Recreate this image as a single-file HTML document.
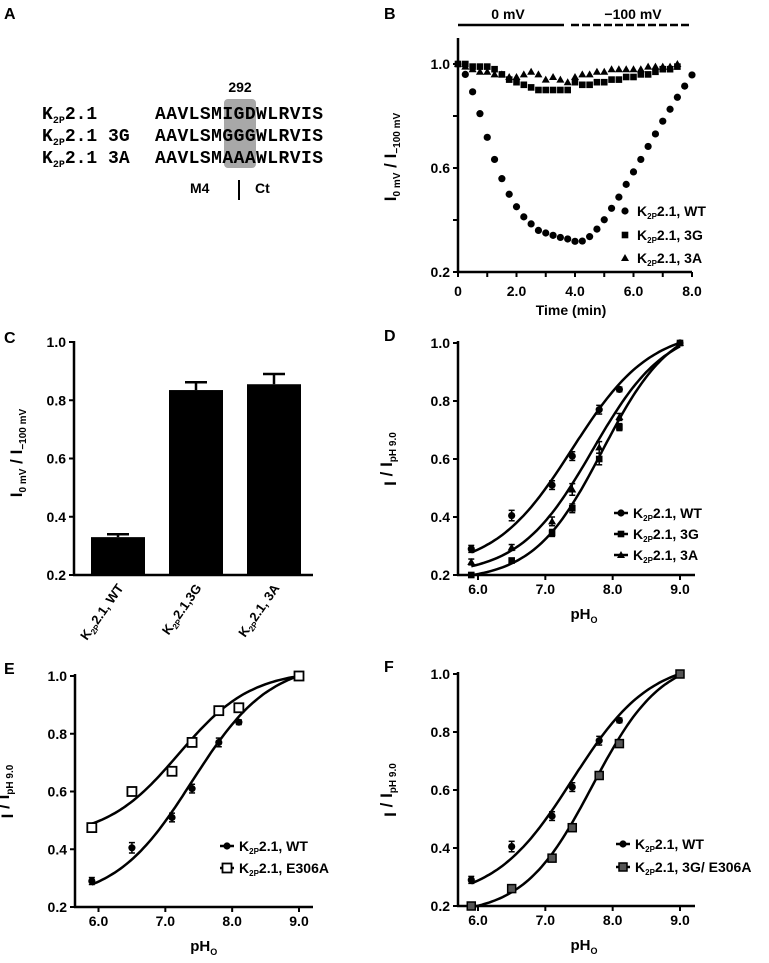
<!DOCTYPE html>
<html><head><meta charset="utf-8"><style>
html,body{margin:0;padding:0;background:#fff}
svg{display:block;font-family:"Liberation Sans",Arial,sans-serif;font-weight:bold}
.mono{font-family:"Liberation Mono","DejaVu Sans Mono",monospace;font-weight:bold}
</style></head><body>
<svg id="fig" width="769" height="963" viewBox="0 0 769 963" xmlns="http://www.w3.org/2000/svg">
<!-- Panel A -->
<g>
<text x="4" y="19" font-size="16">A</text>
<rect x="224" y="99" width="32" height="69" rx="4" fill="#a8a8a8"/>
<text x="240" y="92" font-size="14" text-anchor="middle">292</text>
<g class="mono" font-size="18">
<text x="42" y="119">K<tspan font-size="10" dy="4">2P</tspan><tspan dy="-4">2.1</tspan></text>
<text x="42" y="141">K<tspan font-size="10" dy="4">2P</tspan><tspan dy="-4">2.1 3G</tspan></text>
<text x="42" y="163">K<tspan font-size="10" dy="4">2P</tspan><tspan dy="-4">2.1 3A</tspan></text>
<text x="155" y="119" textLength="168">AAVLSMIGDWLRVIS</text>
<text x="155" y="141" textLength="168">AAVLSMGGGWLRVIS</text>
<text x="155" y="163" textLength="168">AAVLSMAAAWLRVIS</text>
</g>
<text x="190" y="193" font-size="14">M4</text>
<line x1="239" y1="180" x2="239" y2="200" stroke="#000" stroke-width="2"/>
<text x="255" y="193" font-size="14">Ct</text>
</g>
<g id="plots"></g>
</svg>
<script>
// ---------- Data ----------
const bTimeWT=[0,0.25,0.5,0.75,1,1.25,1.5,1.75,2,2.25,2.5,2.75,3,3.25,3.5,3.75,4,4.25,4.5,4.75,5,5.25,5.5,5.75,6,6.25,6.5,6.75,7,7.25,7.5,7.75,8];
const bWT=[1.0,0.96,0.893,0.809,0.718,0.633,0.559,0.499,0.451,0.412,0.385,0.36,0.35,0.341,0.333,0.327,0.318,0.319,0.336,0.365,0.401,0.445,0.488,0.537,0.585,0.633,0.683,0.731,0.78,0.826,0.872,0.915,0.958];
const bTimeMut=[0,0.25,0.5,0.75,1,1.25,1.5,1.75,2,2.25,2.5,2.75,3,3.25,3.5,3.75,4,4.25,4.5,4.75,5,5.25,5.5,5.75,6,6.25,6.5,6.75,7,7.25,7.5];
const b3G=[1.0,1.0,0.99,0.99,0.99,0.98,0.96,0.94,0.93,0.92,0.91,0.90,0.90,0.90,0.90,0.90,0.93,0.92,0.92,0.93,0.93,0.94,0.94,0.95,0.95,0.96,0.96,0.97,0.98,0.98,0.99];
const b3A=[1.0,0.99,0.98,0.97,0.97,0.96,0.96,0.95,0.95,0.96,0.97,0.96,0.94,0.95,0.94,0.93,0.95,0.96,0.96,0.97,0.97,0.98,0.98,0.98,0.98,0.98,0.99,0.99,0.99,0.99,1.0];
const cCategories=["WT","3G","3A"];
const cValues=[0.33,0.835,0.855];
const cErrors=[0.01,0.027,0.035];
const pH=[5.9,6.5,7.1,7.4,7.8,8.1,9.0];
const wtVals=[0.29,0.405,0.51,0.61,0.77,0.84,1.0];
const wtErr=[0.012,0.018,0.015,0.015,0.015,0.008,0.005];
const g3Vals=[0.20,0.25,0.345,0.43,0.60,0.71,1.0];
const g3Err=[0.008,0.008,0.012,0.015,0.02,0.012,0.005];
const a3Vals=[0.245,0.295,0.385,0.495,0.64,0.745,1.0];
const a3Err=[0.01,0.01,0.015,0.02,0.02,0.012,0.005];
const e306Vals=[0.475,0.60,0.67,0.77,0.88,0.89,1.0];
const g3e306Vals=[0.20,0.26,0.365,0.47,0.65,0.76,1.0];
// fit params: [bottom, top, pK, slope]
const fitWT=[0.22,1.05,7.4,0.75];
const fit3G=[0.18,1.08,7.85,0.85];
const fit3A=[0.2,1.06,7.7,0.8];
const fitE306=[0.44,1.02,7.2,0.8];
const fit3GE306=[0.17,1.06,7.7,0.85];
const yTicks=[0.2,0.4,0.6,0.8,1.0];
const pHTicks=[6,7,8,9];
const timeTicks=[0,1,2,3,4,5,6,7,8];

// ---------- helpers ----------
const NS="http://www.w3.org/2000/svg";
const root=document.getElementById('plots');
function el(tag,attrs,parent){const e=document.createElementNS(NS,tag);for(const k in attrs)e.setAttribute(k,attrs[k]);(parent||root).appendChild(e);return e;}
function txt(s,x,y,size,anchor,parent){const t=el('text',{x:x,y:y,'font-size':size,'text-anchor':anchor||'start'},parent);t.textContent=s;return t;}
function hill(p,x){return p[0]+(p[1]-p[0])/(1+Math.pow(10,(p[2]-x)*p[3]));}
function marker(kind,cx,cy,g){
  let m;
  if(kind==='circle') m=el('circle',{cx:cx,cy:cy,r:3.6,fill:'#000'},g);
  else if(kind==='square') m=el('rect',{x:cx-3.3,y:cy-3.3,width:6.6,height:6.6,fill:'#000'},g);
  else if(kind==='tri') m=el('polygon',{points:`${cx},${cy-4} ${cx-4},${cy+3} ${cx+4},${cy+3}`,fill:'#000'},g);
  else if(kind==='open') m=el('rect',{x:cx-4.5,y:cy-4.5,width:9,height:9,fill:'#fff',stroke:'#000','stroke-width':1.8},g);
  else if(kind==='xsq') {m=el('rect',{x:cx-4,y:cy-4,width:8,height:8,fill:'#555',stroke:'#000','stroke-width':1.5},g);}
  return m;
}
function yTitle(x,y,main1,sub1,main2,sub2,g){
  const t=el('text',{transform:`translate(${x},${y}) rotate(-90)`,'font-size':17,'text-anchor':'middle'},g);
  
  
  t.innerHTML=`${main1}<tspan font-size="10" dy="4">${sub1}</tspan><tspan dy="-4"> / ${main2}</tspan><tspan font-size="10" dy="4">${sub2}</tspan>`;
}
function yAxis(g,x,yf,top,labelsAll,labelSet){
  el('line',{x1:x,y1:top,x2:x,y2:yf(0.2)+1,stroke:'#000','stroke-width':2.5},g);
  yTicks.forEach(v=>{
    const yy=yf(v);
    el('line',{x1:x-5,y1:yy,x2:x,y2:yy,stroke:'#000','stroke-width':2},g);
    if(labelsAll||labelSet.includes(v)){const t=txt(v.toFixed(1),x-8,yy+5,14,'end',g);
      
      }
  });
}
function legendEntry(g,x,y,kind,label,withLine){
  const e=el('g',{},g);
  
  
  if(withLine) el('line',{x1:x-7,y1:y,x2:x+7,y2:y,stroke:'#000','stroke-width':2.5},e);
  marker(kind,x,y,e);
  const t=el('text',{x:x+12,y:y+5,'font-size':14},e);
  t.innerHTML=`K<tspan font-size="8" dy="3">2P</tspan><tspan dy="-3">${label}</tspan>`;
}

// ---------- Panel B ----------
(function(){
  const g=el('g',{});
  
  
  const xf=t=>458+t*29.25, yf=v=>272-(v-0.2)*260;
  txt('B',384,19,16,'start',g);
  const l1=txt('0 mV',508,19,14,'middle',g);
  const l2=txt('\u2212100 mV',633,19,14,'middle',g);
  el('line',{x1:458,y1:25,x2:564,y2:25,stroke:'#000','stroke-width':2.5},g);
  el('line',{x1:571,y1:25,x2:689,y2:25,stroke:'#000','stroke-width':2.5,'stroke-dasharray':'8,3'},g);
  yAxis(g,458,yf,38,false,[0.2,0.6,1.0]);
  el('line',{x1:457,y1:272,x2:692,y2:272,stroke:'#000','stroke-width':2.5},g);
  timeTicks.forEach(t=>{el('line',{x1:xf(t),y1:272,x2:xf(t),y2:277,stroke:'#000','stroke-width':2},g);
    if(t%2===0){const lb=txt(t===0?'0':t.toFixed(1),xf(t),296,14,'middle',g);
      
      }});
  const xt=txt('Time (min)',571,315,14,'middle',g);
  
  
  yTitle(396,157,'I','0 mV','I','\u2212100 mV',g);
  b3A.forEach((v,i)=>{const m=marker('tri',xf(bTimeMut[i]),yf(v),g);
    
    });
  b3G.forEach((v,i)=>{const m=marker('square',xf(bTimeMut[i]),yf(v),g);
    
    });
  bWT.forEach((v,i)=>{const m=marker('circle',xf(bTimeWT[i]),yf(v),g);
    
    });
  legendEntry(g,625,211,'circle','2.1, WT',false);
  legendEntry(g,625,235,'square','2.1, 3G',false);
  legendEntry(g,625,258,'tri','2.1, 3A',false);
})();

// ---------- Panel C ----------
(function(){
  const g=el('g',{});
  
  
  const yf=v=>575-(v-0.2)*291.25;
  txt('C',4,343,16,'start',g);
  yAxis(g,74,yf,341,true,[]);
  el('line',{x1:73,y1:575,x2:313,y2:575,stroke:'#000','stroke-width':2.5},g);
  yTitle(22,453,'I','0 mV','I','\u2212100 mV',g);
  const bw=54, step=78, x0=91;
  cValues.forEach((v,i)=>{
    const x=x0+i*step;
    const eb=el('g',{},g);
    
    
    el('line',{x1:x+bw/2,y1:yf(v),x2:x+bw/2,y2:yf(v+cErrors[i]),stroke:'#000','stroke-width':2.5},eb);
    el('line',{x1:x+bw/2-11,y1:yf(v+cErrors[i]),x2:x+bw/2+11,y2:yf(v+cErrors[i]),stroke:'#000','stroke-width':2.5},eb);
    const r=el('rect',{x:x,y:yf(v),width:bw,height:575-yf(v),fill:'#000'},g);
    
    
    const t=el('text',{transform:`translate(${x+bw/2+6},${588}) rotate(-55)`,'font-size':13,'text-anchor':'end'},g);
    
    
    const lab=i===0?'2.1, WT':(i===1?'2.1,3G':'2.1, 3A');
    t.innerHTML=`K<tspan font-size="8" dy="3">2P</tspan><tspan dy="-3">${lab}</tspan>`;
  });
})();

// ---------- pH panels ----------
function phPanel(name,letter,lx,ax,top,bottom,x6,x9,axEnd,series,legend){
  const g=el('g',{});
  
  
  const xf=p=>x6+(p-6)*(x9-x6)/3, yf=v=>bottom-(v-0.2)*(bottom-top)/0.8;
  txt(letter,lx,top-2,16,'start',g);
  yAxis(g,ax,yf,top-2,true,[]);
  el('line',{x1:ax-1,y1:bottom,x2:axEnd,y2:bottom,stroke:'#000','stroke-width':2.5},g);
  pHTicks.forEach(p=>{el('line',{x1:xf(p),y1:bottom,x2:xf(p),y2:bottom+5,stroke:'#000','stroke-width':2},g);
    const t=txt(p.toFixed(1),xf(p),bottom+19,14,'middle',g);
    
    });
  const xt=el('text',{x:(x6+x9)/2+5,y:bottom+44,'font-size':15,'text-anchor':'middle'},g);
  
  
  xt.innerHTML='pH<tspan font-size="9" dy="4">O</tspan>';
  yTitle(ax-62,(top+bottom)/2,'I','','I','pH 9.0',g);
  series.forEach(s=>{
    let d='';
    for(let i=0;i<=80;i++){const p=5.9+3.1*i/80;d+=(i?'L':'M')+xf(p).toFixed(1)+','+yf(hill(s.fit,p)).toFixed(1);}
    const path=el('path',{d:d,fill:'none',stroke:'#000','stroke-width':2.5},g);
    
    
    s.vals.forEach((v,i)=>{
      const e=s.err?s.err[i]:0;
      if(e>0.006){el('line',{x1:xf(pH[i]),y1:yf(v-e),x2:xf(pH[i]),y2:yf(v+e),stroke:'#000','stroke-width':1.5},g);
        el('line',{x1:xf(pH[i])-3,y1:yf(v+e),x2:xf(pH[i])+3,y2:yf(v+e),stroke:'#000','stroke-width':1.5},g);
        el('line',{x1:xf(pH[i])-3,y1:yf(v-e),x2:xf(pH[i])+3,y2:yf(v-e),stroke:'#000','stroke-width':1.5},g);}
      const m=marker(s.kind,xf(pH[i]),yf(v),g);
      
      
    });
  });
  legend.forEach(l=>legendEntry(g,l.x,l.y,l.kind,l.label,true));
}
phPanel('panel-d','D',384,458,343,575,478,680,695,
  [{id:'3g',vals:g3Vals,err:g3Err,fit:fit3G,kind:'square'},
   {id:'3a',vals:a3Vals,err:a3Err,fit:fit3A,kind:'tri'},
   {id:'wt',vals:wtVals,err:wtErr,fit:fitWT,kind:'circle'}],
  [{x:621,y:513,kind:'circle',label:'2.1, WT'},{x:621,y:534,kind:'square',label:'2.1, 3G'},{x:621,y:555,kind:'tri',label:'2.1, 3A'}]);
phPanel('panel-e','E',4,75,676,907,98.5,299,313,
  [{id:'wt',vals:wtVals,err:wtErr,fit:fitWT,kind:'circle'},
   {id:'e306a',vals:e306Vals,err:null,fit:fitE306,kind:'open'}],
  [{x:227,y:846,kind:'circle',label:'2.1, WT'},{x:227,y:868,kind:'open',label:'2.1, E306A'}]);
phPanel('panel-f','F',384,458,674,906,478,680,695,
  [{id:'wt',vals:wtVals,err:wtErr,fit:fitWT,kind:'circle'},
   {id:'3g-e306a',vals:g3e306Vals,err:null,fit:fit3GE306,kind:'xsq'}],
  [{x:623,y:844,kind:'circle',label:'2.1, WT'},{x:623,y:867,kind:'xsq',label:'2.1, 3G/ E306A'}]);
</script>
</body></html>
